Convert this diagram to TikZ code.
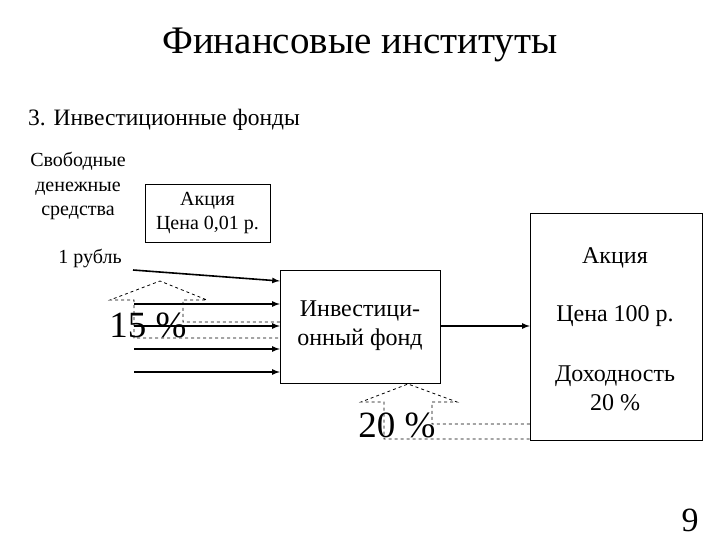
\documentclass[tikz,border=0pt]{standalone}
\usepackage{fontspec}
\setmainfont{Liberation Serif}
\begin{document}
\begin{tikzpicture}[x=1pt,y=-1pt,
  txt/.style={inner sep=0pt,align=center},
  big/.style={inner sep=0pt,font=\fontsize{37}{40}\selectfont},
  flow/.style={line width=1.6pt,-latex},
  outl/.style={dashed,line width=0.8pt}]
\useasboundingbox (0,0) rectangle (720,540);
\node[inner sep=0pt,font=\fontsize{39}{44}\selectfont] (title) at (360,45) {Финансовые институты};
\node[txt,anchor=west,font=\fontsize{23.5}{28}\selectfont] (sub) at (28,120) {3. Инвестиционные фонды};
\node[txt,font=\fontsize{20}{24.5}\selectfont] (free) at (78,186) {Свободные\\денежные\\средства};
\node[txt,font=\fontsize{20}{24}\selectfont] (rub) at (90,258) {1 рубль};
\node[draw,thin,minimum width=125pt,minimum height=58pt,txt,font=\fontsize{20}{24}\selectfont] (small) at (207.5,213) {Акция\\Цена 0,01 р.};
\node[draw,thin,minimum width=160pt,minimum height=113pt] (fund) at (360,326.5) {};
\node[txt,font=\fontsize{24}{29}\selectfont] (fundt) at (360,326) {Инвестици-\\онный фонд};
\node[draw,thin,minimum width=172pt,minimum height=227pt] (ak) at (616,326.5) {};
\node[txt,font=\fontsize{24}{28}\selectfont] (a1) at (615,258) {Акция};
\node[txt,font=\fontsize{24}{28}\selectfont] (a2) at (615,316) {Цена 100 р.};
\node[txt,font=\fontsize{24}{29}\selectfont] (a3) at (615,388) {Доходность\\20 \%};
\node[big] (p15) at (148,325) {15 \%};
\node[big] (p20) at (397,425) {20 \%};
\node[inner sep=0pt,font=\fontsize{34}{38}\selectfont] (pg) at (690,520) {9};
% dashed arrow outlines
\draw[outl] (fund.west |- 0,322) -- (183,322) -- (183,300) -- (207,300) -- (160,281) -- (110,300) -- (134,300) -- (134,338) -- (fund.west |- 0,338);
\draw[outl] (ak.west |- 0,424) -- (432,424) -- (432,402) -- (457,402) -- (408,384) -- (361,402) -- (384,402) -- (384,439) -- (ak.west |- 0,439);
% flows
\coordinate (s0) at (133,270);
\coordinate (s1) at (134,304);
\coordinate (s2) at (134,326);
\coordinate (s3) at (134,349);
\coordinate (s4) at (134,372);
\draw[flow] (s0) -- (fund.west |- 0,281);
\draw[flow] (s1) -- (fund.west |- s1);
\draw[flow] (s2) -- (fund.west |- s2);
\draw[flow] (s3) -- (fund.west |- s3);
\draw[flow] (s4) -- (fund.west |- s4);
\draw[flow] (fund.east |- 0,326) -- (ak.west |- 0,326);
\end{tikzpicture}
\end{document}
